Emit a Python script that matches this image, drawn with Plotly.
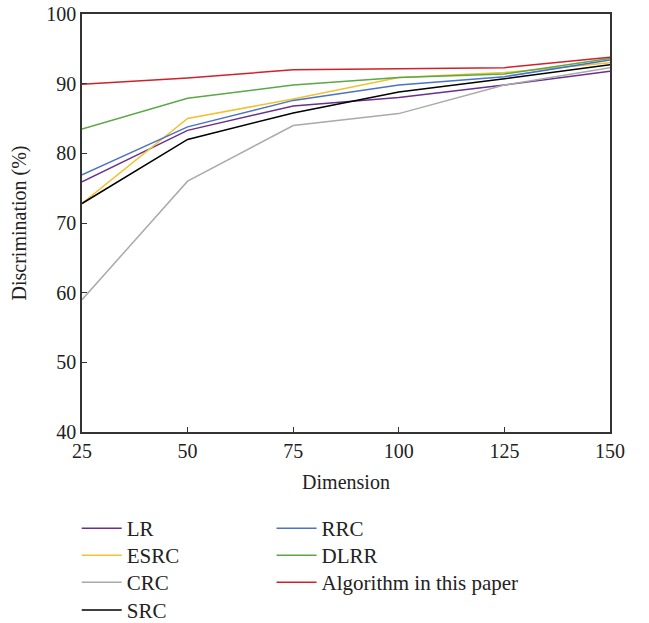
import plotly.graph_objects as go

dimension = [25, 50, 75, 100, 125, 150]
x_ticks = [25, 50, 75, 100, 125, 150]
y_ticks = [40, 50, 60, 70, 80, 90, 100]

lr = [75.9, 83.3, 86.8, 88.0, 89.8, 91.8]
esrc = [72.8, 85.0, 87.8, 90.9, 91.6, 93.0]
crc = [59.0, 76.0, 84.0, 85.7, 89.8, 92.3]
src = [72.8, 82.0, 85.8, 88.8, 90.7, 92.7]
rrc = [76.9, 83.8, 87.6, 89.8, 91.0, 93.4]
dlrr = [83.5, 87.9, 89.8, 90.9, 91.4, 93.6]
ours = [89.9, 90.8, 92.0, 92.2, 92.3, 93.8]

# (name, values, colour, legend column, legend row)
series = [
    ("LR", lr, "#6b2f8f", 0, 0),
    ("ESRC", esrc, "#f2c12e", 0, 1),
    ("CRC", crc, "#aaaaaa", 0, 2),
    ("SRC", src, "#000000", 0, 3),
    ("RRC", rrc, "#4a72c8", 1, 0),
    ("DLRR", dlrr, "#5aa846", 1, 1),
    ("Algorithm in this paper", ours, "#d2202a", 1, 2),
]

font_family = "Liberation Serif, DejaVu Serif, serif"
col_x = [-0.01, 0.359]
row_y = [-0.1818, -0.2464, -0.311, -0.3774]

axis_common = dict(
    showgrid=False, zeroline=False, showline=True, linecolor="#333333", linewidth=1.5,
    mirror=True, ticks="inside", ticklen=5, tickcolor="#333333", tickwidth=1.2,
    tickfont=dict(family=font_family, size=20, color="#222222"), automargin=False,
)

legend_common = dict(orientation="h", xanchor="left", yanchor="top",
                     font=dict(family=font_family, size=21),
                     bgcolor="rgba(0,0,0,0)", itemwidth=40, tracegroupgap=0)

fig = go.Figure()
legends = {}
for i, (name, vals, color, col, row) in enumerate(series):
    key = "legend" if i == 0 else f"legend{i + 1}"
    fig.add_trace(go.Scatter(x=dimension, y=vals, mode="lines", name=name, legend=key,
                             line=dict(color=color, width=1.5)))
    legends[key] = dict(x=col_x[col], y=row_y[row], **legend_common)

fig.update_layout(
    width=649, height=623,
    margin=dict(l=82, r=39, t=14, b=191, autoexpand=False),
    paper_bgcolor="white", plot_bgcolor="white",
    font=dict(family=font_family, size=20, color="#222222"),
    xaxis=dict(range=[25, 150], tickvals=x_ticks, title=dict(text="Dimension", standoff=14,
               font=dict(family=font_family, size=20)), **axis_common),
    yaxis=dict(range=[40, 100], tickvals=y_ticks, title=dict(text="Discrimination (%)", standoff=14,
               font=dict(family=font_family, size=20)), **axis_common),
    showlegend=True,
    **legends,
)

fig.write_html("out.html", config={"displayModeBar": False},
               post_script="document.body.style.margin='0';")
